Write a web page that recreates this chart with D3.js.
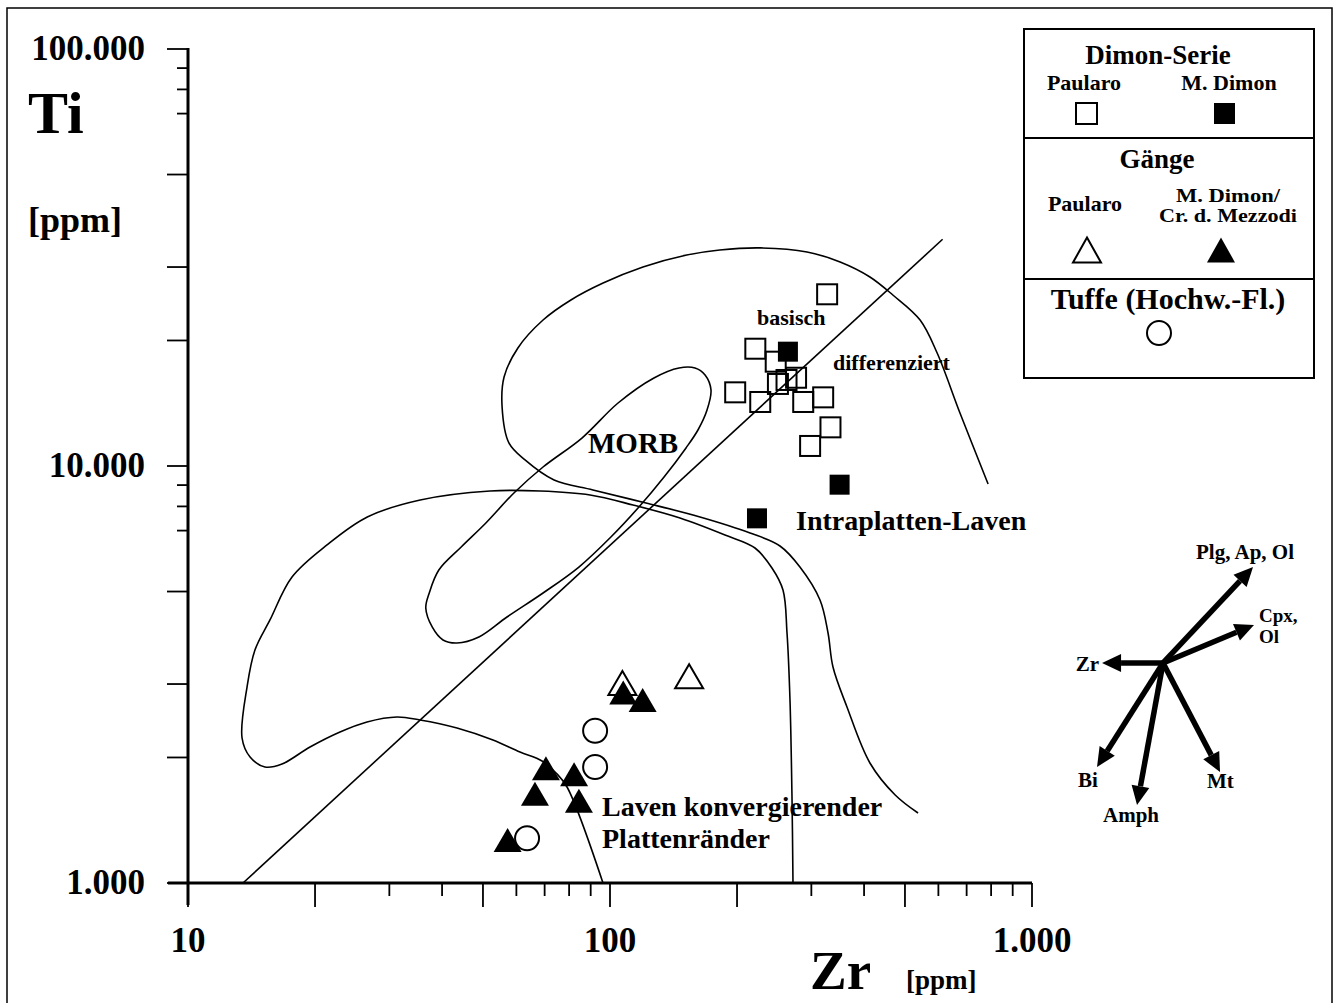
<!DOCTYPE html>
<html><head><meta charset="utf-8">
<script src="https://cdn.jsdelivr.net/npm/d3@7"></script>
<style>
html,body{margin:0;padding:0;background:#fff;}
svg{display:block;}
text{font-family:"Liberation Serif","Times New Roman",serif;font-weight:bold;fill:#000;}
</style></head><body>
<svg id="chart" width="1338" height="1003"></svg>
<script>
// ---------- DATA ----------
const xTickLabelValues = [10, 100, 1000];
const xTickLabels = ["10", "100", "1.000"];
const yTickLabelValues = [1000, 10000, 100000];
const yTickLabels = ["1.000", "10.000", "100.000"];
const yTickMantissas = [1, 2, 3, 5, 7, 8, 9];

// Dimon-Serie
const dimonPaularo = [[327,25810],[221,19110],[247,17790],[250,15730],[262,16080],[276,16280],[198,15020],[227,14240],[287,14240],[320,14610],[333,12380],[298,11170]];
const dimonMDimon = [[264,18800],[350,9020],[223,7490]];
// Gänge
const gaengePaularo = [[154,3133],[107,3017]];
const gaengeMDimon = [[107.5,2862],[119.5,2747],[70.5,1884],[82.2,1823],[66.4,1636],[84.4,1574],[57.2,1268]];
// Tuffe
const tuffe = [[92.2,2318],[92.2,1898],[63.6,1280]];

// Discrimination fields (Zr, Ti in ppm)
const fieldIntraplatten = [[787,9054],[675,13400],[596,18660],[543,22390],[468,25710],[413,28400],[351,30850],[293,32610],[227,33340],[182,32960],[152,32060],[119.7,30000],[96.3,27460],[80.8,25010],[69.4,22390],[60.5,19190],[56.1,16340],[55.5,13850],[57.6,11360],[62.9,10340],[73.7,9256],[91.1,8758],[121.7,8153],[163.4,7546],[214.7,6908],[252.8,6430],[281.9,5725],[314.5,4772],[328.6,3977],[337.6,3296],[364.4,2643],[413,1940],[474,1626],[537,1472]];
const fieldKonvergierend = [[271.4,1000],[270,1581],[267,2746],[262.7,3977],[257,5042],[242,5693],[220.6,6359],[187.3,6831],[146.5,7504],[113.4,8063],[89.7,8521],[68.3,8710],[52,8710],[35.5,8288],[26.6,7546],[21.35,6465],[17.64,5417],[15.64,4273],[14.41,3621],[13.8,2951],[13.43,2227],[14.03,2005],[15.22,1898],[16.7,1929],[19.46,2119],[22.92,2302],[26.56,2433],[31.28,2501],[35.47,2460],[43.39,2353],[52.81,2202],[61.19,2061],[69,1962],[74.5,1836],[79.1,1699],[96.25,1000]];
const fieldMORB = [[145.7,17180],[159,17180],[168,16530],[173.5,15220],[169.8,13620],[161.6,12200],[151.4,11050],[134.3,9410],[117.1,7974],[100.5,6756],[84.4,5725],[69.4,4960],[57,4344],[48.9,3890],[43.4,3763],[40.2,3826],[37.9,4111],[36.6,4565],[37.3,4960],[39.3,5631],[44.4,6394],[50.8,7300],[59.2,8616],[69.4,9945],[85.8,11670],[104.5,14160],[127.1,16260]];
const discriminantLine = [[13.5,1000],[614,34970]];

// Fractionation vectors (origin in ppm, deltas in log10 units)
const vectorOrigin = [2044, 3370];
const vectorNames = ["Plg, Ap, Ol", "Cpx,|Ol", "Zr", "Bi", "Amph", "Mt"];
const vectorDlogZr = [0.2133, 0.2156, -0.1445, -0.1564, -0.0616, 0.1351];
const vectorDlogTi = [0.2302, 0.0911, 0, -0.2494, -0.3405, -0.2614];

// ---------- CHART ----------
const svg = d3.select("#chart");
const x = d3.scaleLog().domain([10, 1000]).range([188, 1032]);
const y = d3.scaleLog().domain([1000, 100000]).range([883, 49]);

// outer frame
svg.append("rect").attr("x", 7).attr("y", 8).attr("width", 1325).attr("height", 1005)
  .attr("fill", "none").attr("stroke", "#000").attr("stroke-width", 1.5);

// fields
const line = d3.line().x(d => x(d[0])).y(d => y(d[1]));
const g = svg.append("g").attr("fill", "none").attr("stroke", "#000").attr("stroke-width", 1.6);
g.append("path").attr("d", line.curve(d3.curveCatmullRom.alpha(0.5))(fieldIntraplatten));
g.append("path").attr("d", line.curve(d3.curveCatmullRom.alpha(0.5))(fieldKonvergierend));
g.append("path").attr("d", line.curve(d3.curveCatmullRomClosed.alpha(0.5))(fieldMORB));
g.append("path").attr("d", line.curve(d3.curveLinear)(discriminantLine));

// axes
const ax = svg.append("g").attr("stroke", "#000");
ax.append("line").attr("x1", 168).attr("x2", x(1000)).attr("y1", y(1000)).attr("y2", y(1000)).attr("stroke-width", 3);
ax.append("line").attr("x1", x(10)).attr("x2", x(10)).attr("y1", y(100000) - 1).attr("y2", 905).attr("stroke-width", 3);

const xTicks = [];
for (const dec of [10, 100]) for (let m = 1; m <= 9; m++) xTicks.push(m * dec);
xTicks.push(1000);
xTicks.forEach(v => {
  const m = Math.round(v / Math.pow(10, Math.floor(Math.log10(v) + 1e-9)));
  const len = (m === 1 || m === 2 || m === 5) ? 24 : 13;
  ax.append("line").attr("x1", x(v)).attr("x2", x(v)).attr("y1", y(1000)).attr("y2", y(1000) + len).attr("stroke-width", 1.8);
});
const yTicks = [];
for (const dec of [1000, 10000]) yTickMantissas.forEach(m => yTicks.push(m * dec));
yTicks.push(100000);
yTicks.forEach(v => {
  const m = Math.round(v / Math.pow(10, Math.floor(Math.log10(v) + 1e-9)));
  const len = (m <= 5) ? 21 : 11;
  ax.append("line").attr("x1", x(10) - len).attr("x2", x(10)).attr("y1", y(v)).attr("y2", y(v)).attr("stroke-width", 1.8);
});

svg.selectAll(".xl").data(xTickLabelValues).enter().append("text")
  .attr("x", d => x(d)).attr("y", 952).attr("text-anchor", "middle").attr("font-size", 35)
  .text((d, i) => xTickLabels[i]);
svg.selectAll(".yl").data(yTickLabelValues).enter().append("text")
  .attr("x", 145).attr("y", d => y(d) + 11).attr("text-anchor", "end").attr("font-size", 35)
  .text((d, i) => yTickLabels[i]);

// axis titles
svg.append("text").attr("x", 28).attr("y", 133).attr("font-size", 60).text("Ti");
svg.append("text").attr("x", 28).attr("y", 232).attr("font-size", 36).text("[ppm]");
svg.append("text").attr("x", 810).attr("y", 989).attr("font-size", 55).text("Zr");
svg.append("text").attr("x", 906).attr("y", 989).attr("font-size", 27).text("[ppm]");

// field labels
svg.append("text").attr("x", 757).attr("y", 325).attr("font-size", 22).text("basisch");
svg.append("text").attr("x", 833).attr("y", 370).attr("font-size", 22).text("differenziert");
svg.append("text").attr("x", 588).attr("y", 453).attr("font-size", 29).text("MORB");
svg.append("text").attr("x", 796).attr("y", 530).attr("font-size", 28).text("Intraplatten-Laven");
const lk = svg.append("text").attr("x", 602).attr("y", 816).attr("font-size", 28);
lk.append("tspan").attr("x", 602).text("Laven konvergierender");
lk.append("tspan").attr("x", 602).attr("dy", 31.5).text("Plattenränder");

// symbols
const SQ = 20, TW = 28, TH = 24, CR = 12;
const triPath = (w, h) => `M0,${-h/2}L${w/2},${h/2}L${-w/2},${h/2}Z`;

svg.append("g").selectAll("rect").data(dimonPaularo).enter().append("rect")
  .attr("x", d => x(d[0]) - SQ/2).attr("y", d => y(d[1]) - SQ/2).attr("width", SQ).attr("height", SQ)
  .attr("fill", "none").attr("stroke", "#000").attr("stroke-width", 2);
svg.append("g").selectAll("rect").data(dimonMDimon).enter().append("rect")
  .attr("x", d => x(d[0]) - SQ/2).attr("y", d => y(d[1]) - SQ/2).attr("width", SQ).attr("height", SQ)
  .attr("fill", "#000");
svg.append("g").selectAll("path").data(gaengePaularo).enter().append("path")
  .attr("transform", d => `translate(${x(d[0])},${y(d[1])})`).attr("d", triPath(TW, TH))
  .attr("fill", "#fff").attr("stroke", "#000").attr("stroke-width", 2);
svg.append("g").selectAll("path").data(gaengeMDimon).enter().append("path")
  .attr("transform", d => `translate(${x(d[0])},${y(d[1])})`).attr("d", triPath(TW, TH))
  .attr("fill", "#000");
svg.append("g").selectAll("circle").data(tuffe).enter().append("circle")
  .attr("cx", d => x(d[0])).attr("cy", d => y(d[1])).attr("r", CR)
  .attr("fill", "#fff").attr("stroke", "#000").attr("stroke-width", 2);

// fractionation vectors
const ox = x(vectorOrigin[0]), oy = y(vectorOrigin[1]);
const labelOffsets = [[-8,-8,"middle"],[5,-3,"start"],[-3,8,"end"],[-19,20,"start"],[-34,17,"start"],[-13,16,"start"]];
const vg = svg.append("g");
vectorNames.forEach((name, i) => {
  const tx = x(vectorOrigin[0] * Math.pow(10, vectorDlogZr[i]));
  const ty = y(vectorOrigin[1] * Math.pow(10, vectorDlogTi[i]));
  const ang = Math.atan2(ty - oy, tx - ox);
  const hl = 19, hw = 9;
  const bx = tx - hl * Math.cos(ang), by = ty - hl * Math.sin(ang);
  vg.append("line").attr("x1", ox).attr("y1", oy).attr("x2", bx).attr("y2", by)
    .attr("stroke", "#000").attr("stroke-width", 5.5);
  const px = -Math.sin(ang), py = Math.cos(ang);
  vg.append("path").attr("d", `M${tx},${ty}L${bx + hw*px},${by + hw*py}L${bx - hw*px},${by - hw*py}Z`).attr("fill", "#000");
  const [dx, dy, anchor] = labelOffsets[i];
  const parts = name.split("|");
  const fs = parts.length > 1 ? 19 : 21;
  parts.forEach((p, k) => {
    vg.append("text").attr("x", tx + dx).attr("y", ty + dy + k * 21.5).attr("text-anchor", anchor)
      .attr("font-size", fs).text(p);
  });
});

// legend
const lg = svg.append("g");
const LX0 = 1024, LX1 = 1314;
lg.append("rect").attr("x", LX0).attr("y", 29).attr("width", LX1 - LX0).attr("height", 349)
  .attr("fill", "#fff").attr("stroke", "#000").attr("stroke-width", 2);
lg.append("line").attr("x1", LX0).attr("x2", LX1).attr("y1", 138).attr("y2", 138).attr("stroke", "#000").attr("stroke-width", 2);
lg.append("line").attr("x1", LX0).attr("x2", LX1).attr("y1", 279).attr("y2", 279).attr("stroke", "#000").attr("stroke-width", 2);
const lt = (tx, ty, s, txt) => lg.append("text").attr("x", tx).attr("y", ty).attr("text-anchor", "middle").attr("font-size", s).text(txt);
lt(1158, 64, 27, "Dimon-Serie");
lt(1084, 90, 22, "Paularo");
lt(1229, 90, 22, "M. Dimon");
lg.append("rect").attr("x", 1076).attr("y", 103).attr("width", 21).attr("height", 21).attr("fill", "none").attr("stroke", "#000").attr("stroke-width", 2);
lg.append("rect").attr("x", 1214).attr("y", 103).attr("width", 21).attr("height", 21).attr("fill", "#000");
lt(1157, 168, 27, "Gänge");
lt(1085, 211, 22, "Paularo");
lt(1228, 201.5, 18, "M. Dimon/").attr("textLength", 104).attr("lengthAdjust", "spacingAndGlyphs");
lt(1228, 222, 18, "Cr. d. Mezzodi").attr("textLength", 138).attr("lengthAdjust", "spacingAndGlyphs");
lg.append("path").attr("transform", "translate(1087,250)").attr("d", triPath(28, 25)).attr("fill", "#fff").attr("stroke", "#000").attr("stroke-width", 2);
lg.append("path").attr("transform", "translate(1221,250)").attr("d", triPath(28, 25)).attr("fill", "#000");
lt(1168, 309, 30, "Tuffe (Hochw.-Fl.)");
lg.append("circle").attr("cx", 1159).attr("cy", 333).attr("r", 12).attr("fill", "#fff").attr("stroke", "#000").attr("stroke-width", 2);
</script>
</body></html>
